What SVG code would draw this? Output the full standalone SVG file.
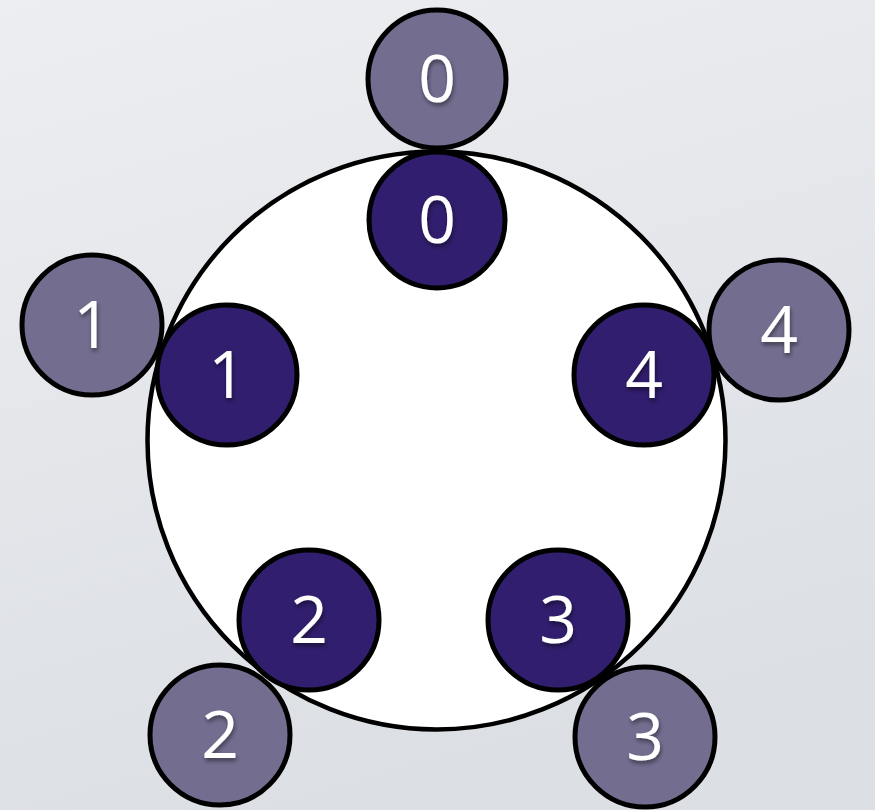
<svg xmlns="http://www.w3.org/2000/svg" width="875" height="810" viewBox="0 0 875 810">
<defs>
<linearGradient id="bg" x1="0" y1="0" x2="0.3" y2="1">
<stop offset="0" stop-color="#eceef1"/>
<stop offset="1" stop-color="#dcdfe4"/>
</linearGradient>
<filter id="ts" x="-50%" y="-50%" width="200%" height="200%">
<feDropShadow dx="1" dy="3" stdDeviation="2" flood-color="#000" flood-opacity="0.45"/>
</filter>
</defs>
<style>
.ring{fill:#ffffff;stroke:#000;stroke-width:4.5}
.inner{fill:#311e6e;stroke:#000;stroke-width:5}
.outer{fill:#736d8f;stroke:#000;stroke-width:5}
.lbl{fill:#ffffff;font-family:"Open Sans","DejaVu Sans",sans-serif;font-size:66px;text-anchor:middle;filter:url(#ts)}
</style>
<rect width="875" height="810" fill="url(#bg)"/>
<g id="ring"><circle class="ring" cx="436.5" cy="440.5" r="289"/></g>
<g id="connectors"></g>
<g id="outer0"><circle class="outer" cx="437" cy="79" r="69"/><text class="lbl" x="437" y="102">0</text></g>
<g id="outer1"><circle class="outer" cx="92" cy="325" r="70"/><text class="lbl" x="92" y="348">1</text></g>
<g id="outer4"><circle class="outer" cx="779" cy="330" r="70"/><text class="lbl" x="779" y="353">4</text></g>
<g id="outer2"><circle class="outer" cx="220" cy="735" r="70"/><text class="lbl" x="220" y="758">2</text></g>
<g id="outer3"><circle class="outer" cx="645" cy="737" r="70"/><text class="lbl" x="645" y="760">3</text></g>
<g id="inner0"><circle class="inner" cx="437" cy="220" r="68"/><text class="lbl" x="437" y="243">0</text></g>
<g id="inner1"><circle class="inner" cx="227" cy="375" r="70"/><text class="lbl" x="227" y="398">1</text></g>
<g id="inner4"><circle class="inner" cx="644" cy="375" r="70"/><text class="lbl" x="644" y="398">4</text></g>
<g id="inner2"><circle class="inner" cx="309" cy="620" r="70"/><text class="lbl" x="309" y="643">2</text></g>
<g id="inner3"><circle class="inner" cx="558" cy="620" r="70"/><text class="lbl" x="558" y="643">3</text></g>
</svg>
